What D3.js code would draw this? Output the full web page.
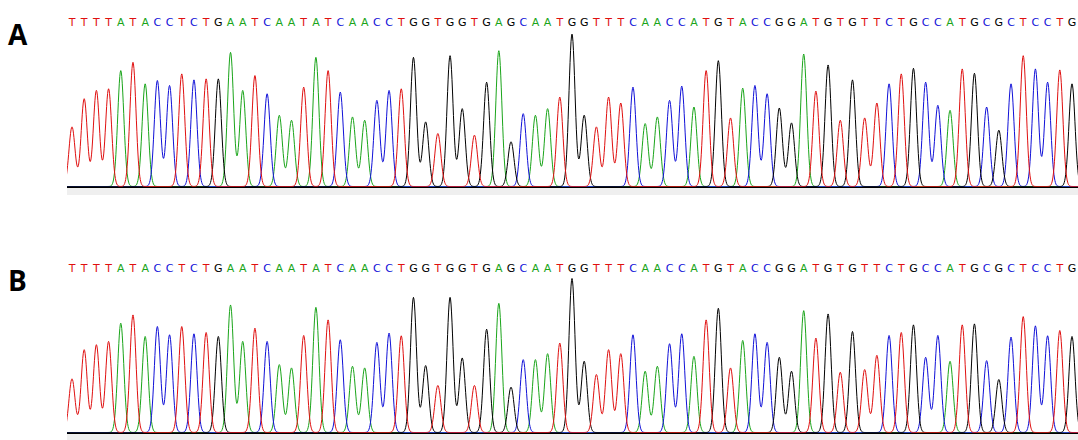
<!DOCTYPE html>
<html>
<head>
<meta charset="utf-8">
<script src="https://cdn.jsdelivr.net/npm/d3@7"></script>
<style>
  body { margin: 0; background: #fff; }
  .base { font-family: "DejaVu Sans", sans-serif; font-size: 11px; }
</style>
</head>
<body>
<div id="chart"></div>
<script>
var svgWidth = 1078;
var svgHeight = 440;

// called bases (same read in both panels)
var sequence = "TTTTATACCTCTGAATCAATATCAACCTGGTGGTGAGCAATGGTTTCAACCATGTACCGGATGTGTTCTGCCATGCGCTCCTG".split("");

// peak heights (arbitrary units)
var peaksA = [180, 265, 290, 295, 350, 375, 310, 320, 305, 340, 322, 325, 325, 405, 290, 335, 280, 215, 200, 300,
  390, 350, 285, 210, 200, 260, 290, 295, 390, 195, 160, 395, 235, 155, 315, 410, 135, 220, 215, 235, 270, 460, 215,
  180, 270, 252, 300, 190, 210, 260, 303, 240, 350, 380, 207, 297, 305, 280, 237, 192, 400, 288, 367, 200, 322, 207,
  252, 310, 340, 357, 315, 245, 230, 355, 342, 240, 170, 310, 395, 355, 315, 352, 310];
var peaksB = [162, 250, 265, 275, 330, 355, 290, 320, 295, 320, 298, 302, 290, 385, 275, 315, 275, 205, 195, 293,
  378, 340, 280, 200, 195, 272, 300, 292, 408, 202, 142, 408, 225, 142, 312, 390, 137, 220, 220, 238, 270, 465, 215,
  175, 250, 238, 295, 185, 200, 268, 298, 230, 340, 375, 195, 278, 298, 272, 227, 185, 368, 285, 358, 182, 305, 190,
  233, 293, 302, 325, 227, 293, 215, 325, 328, 217, 160, 288, 350, 322, 292, 308, 290];

var channels = ["A", "C", "G", "T"];
var baseColor = { A: "#1aa51a", C: "#1010d8", G: "#000000", T: "#e01010" };

var panels = [
  { label: "A", peaks: peaksA, top: 0 },
  { label: "B", peaks: peaksB, top: 246 }
];

var svg = d3.select("#chart")
  .append("svg")
  .attr("width", svgWidth)
  .attr("height", svgHeight);

var plotLeft = 67, plotRight = 1078;

var xScale = d3.scaleLinear()
  .domain([0, sequence.length - 1])
  .range([72, 1072]);

var sigma = 0.25; // in base units

panels.forEach(function(p, pi) {
  var g = svg.append("g").attr("transform", `translate(0, ${p.top})`);
  var baseline = 187;

  var yScale = d3.scaleLinear()
    .domain([0, 465])
    .range([baseline, baseline - 154]);

  g.append("text")
    .attr("x", 8)
    .attr("y", 45)
    .attr("font-family", "Open Sans, DejaVu Sans, sans-serif")
    .attr("font-weight", 700)
    .attr("font-size", "28px")
    .text(p.label);

  // grey strip under the traces
  g.append("rect")
    .attr("x", plotLeft)
    .attr("y", baseline + 1)
    .attr("width", plotRight - plotLeft)
    .attr("height", pi === 0 ? 7 : 8)
    .attr("fill", "#efefef");

  // base calls
  g.selectAll(".base")
    .data(sequence)
    .enter()
    .append("text")
    .attr("class", "base")
    .attr("x", (d, i) => xScale(i))
    .attr("y", 26)
    .attr("text-anchor", "middle")
    .attr("fill", d => baseColor[d])
    .text(d => d);

  var clipId = "clip" + pi;
  g.append("clipPath").attr("id", clipId)
    .append("rect")
    .attr("x", plotLeft).attr("y", 0)
    .attr("width", plotRight - plotLeft).attr("height", baseline + 1);

  var traces = g.append("g").attr("clip-path", `url(#${clipId})`);

  channels.forEach(function(ch) {
    var pts = [];
    for (var t = -0.6; t <= sequence.length - 0.4; t += 0.04) {
      var v = 0;
      sequence.forEach(function(b, i) {
        if (b !== ch) return;
        var dx = (t - i) / sigma;
        if (Math.abs(dx) < 6) v += p.peaks[i] * Math.exp(-0.5 * dx * dx);
      });
      pts.push([t, v + 1.5]);
    }
    traces.append("path")
      .datum(pts)
      .attr("fill", "none")
      .attr("stroke", baseColor[ch])
      .attr("stroke-width", 1)
      .attr("d", d3.line().x(d => xScale(d[0])).y(d => yScale(d[1])));
  });

  g.append("line")
    .attr("x1", plotLeft).attr("x2", plotRight)
    .attr("y1", baseline + 0.5).attr("y2", baseline + 0.5)
    .attr("stroke", "#000")
    .attr("stroke-width", 1);
});
</script>
</body>
</html>
